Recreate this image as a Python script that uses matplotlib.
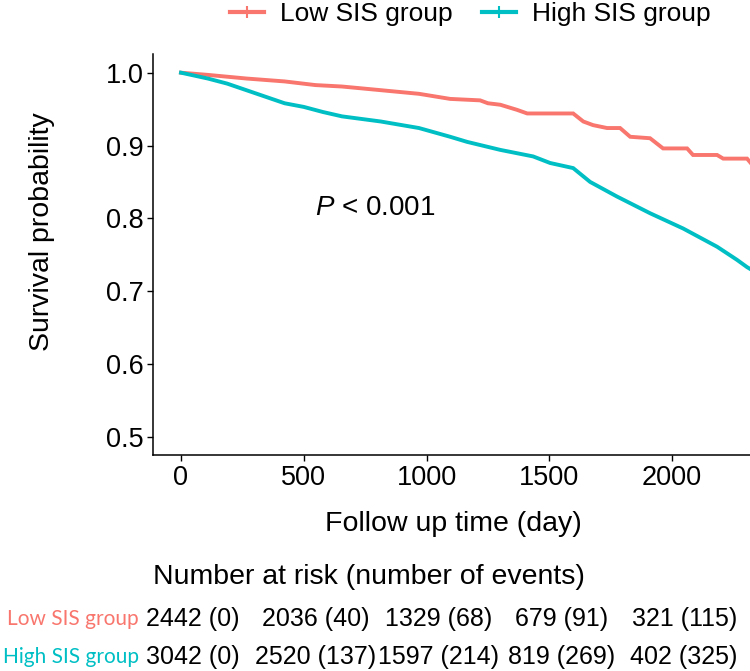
import matplotlib
matplotlib.use("Agg")
import matplotlib.pyplot as plt
import matplotlib.transforms as mtransforms
from matplotlib.lines import Line2D

plt.rcParams["font.family"] = ["Liberation Sans", "DejaVu Sans"]
plt.rcParams["mathtext.fontset"] = "custom"
plt.rcParams["mathtext.it"] = "Liberation Sans:italic"
plt.rcParams["mathtext.rm"] = "Liberation Sans"

# survival curves (day, survival probability)
low_days = [0, 109, 266, 422, 547, 656, 813, 969, 1096, 1218, 1250, 1300, 1368,
            1410, 1597, 1638, 1678, 1735, 1788, 1829, 1910, 1963, 2061, 2085,
            2183, 2208, 2305, 2320]
low_surv = [1.000, 0.997, 0.992, 0.988, 0.983, 0.981, 0.976, 0.971, 0.964, 0.962,
            0.958, 0.956, 0.949, 0.944, 0.944, 0.933, 0.928, 0.924, 0.924, 0.912,
            0.910, 0.896, 0.896, 0.887, 0.887, 0.882, 0.882, 0.876]

high_days = [0, 109, 188, 266, 344, 422, 500, 578, 656, 813, 969, 1096, 1165,
             1300, 1434, 1503, 1597, 1666, 1775, 1910, 2045, 2183, 2264, 2305, 2320]
high_surv = [1.000, 0.992, 0.985, 0.976, 0.967, 0.958, 0.953, 0.946, 0.940, 0.933,
             0.924, 0.912, 0.905, 0.894, 0.885, 0.876, 0.869, 0.850, 0.830, 0.807,
             0.786, 0.761, 0.743, 0.733, 0.730]

groups = ["Low SIS group", "High SIS group"]
colors = ["#F8766D", "#00BFC4"]

risk_times = [0, 500, 1000, 1500, 2000]
low_risk = ["2442 (0)", "2036 (40)", "1329 (68)", "679 (91)", "321 (115)"]
high_risk = ["3042 (0)", "2520 (137)", "1597 (214)", "819 (269)", "402 (325)"]

fig = plt.figure(figsize=(7.5, 6.71), dpi=100)
ax = fig.add_axes([0.204, 0.3219, 0.796, 0.5969])

ax.plot(low_days, low_surv, color=colors[0], lw=2.8, solid_joinstyle="miter")
ax.plot(high_days, high_surv, color=colors[1], lw=2.8, solid_joinstyle="miter")

ax.set_xlim(-114, 2317)
ax.set_ylim(0.475, 1.025)
ax.set_xticks(risk_times)
ax.set_yticks([0.5, 0.6, 0.7, 0.8, 0.9, 1.0])
ax.set_yticklabels(["0.5", "0.6", "0.7", "0.8", "0.9", "1.0"])
ax.tick_params(labelsize=19.5, length=4, width=1, pad=3, colors="black")
for s in ["top", "right"]:
    ax.spines[s].set_visible(False)
for s in ["left", "bottom"]:
    ax.spines[s].set_linewidth(1.1)

ax.text(546, 0.814, r"$\it{P}$ < 0.001", fontsize=20, ha="left", va="center")

fig.text(42 / 750, 1 - 232 / 671, "Survival probability", rotation=90,
         fontsize=20.5, ha="center", va="center")
fig.text(453 / 750, 1 - 524 / 671, "Follow up time (day)", fontsize=20.5,
         ha="center", va="center")

# legend on top
handles = [Line2D([], [], color=c, lw=3, marker="+", markersize=9, mew=1.5)
           for c in colors]
fig.legend(handles, groups, loc="upper center", bbox_to_anchor=(470 / 750, 1.032),
           ncol=2, frameon=False, fontsize=19, handlelength=1.3,
           handletextpad=0.6, columnspacing=1.1)

# risk table
fig.text(153 / 750, 1 - 577 / 671, "Number at risk (number of events)",
         fontsize=20.5, ha="left", va="center")
trans = mtransforms.blended_transform_factory(ax.transData, fig.transFigure)
trans = trans + mtransforms.ScaledTranslation(0.12, 0, fig.dpi_scale_trans)
row_y = [1 - 619 / 671, 1 - 657 / 671]
for row, vals in enumerate([low_risk, high_risk]):
    fig.text(139 / 750, row_y[row], groups[row], color=colors[row],
             fontsize=15, family="Lato", ha="right", va="center")
    for t, v in zip(risk_times, vals):
        ax.text(t, row_y[row], v, transform=trans, fontsize=18,
                ha="center", va="center", clip_on=False)

fig.savefig("out.png", dpi=100)
